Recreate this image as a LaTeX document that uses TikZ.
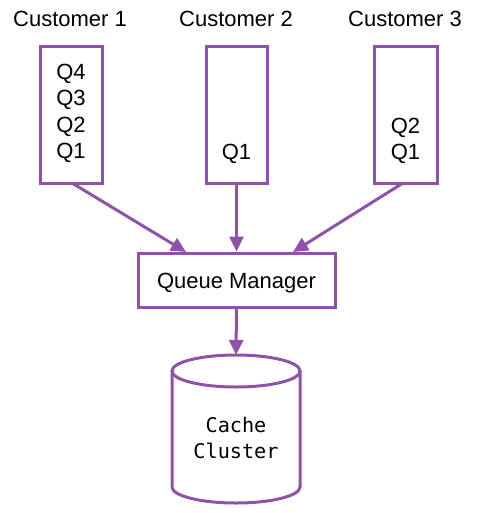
\documentclass[tikz,border=0pt]{standalone}
\usepackage{fontspec}
\setmainfont{Liberation Sans}
\newfontfamily\monof{DejaVu Sans Mono}
\usetikzlibrary{arrows.meta}
\definecolor{pur}{RGB}{142,83,166}
\tikzset{
  lbl/.style={anchor=base, inner sep=0pt, font=\fontsize{22}{26}\selectfont},
  mlbl/.style={anchor=base, inner sep=0pt, font=\monof\fontsize{20.2}{24}\selectfont},
  qbox/.style={draw=pur, line width=3pt},
  conn/.style={draw=pur, line width=3pt, -{Triangle[length=15pt,width=14pt]}, shorten >=0pt}
}
\begin{document}
\begin{tikzpicture}[x=1pt,y=-1pt]
\useasboundingbox (0,0) rectangle (491,513);
% customers
\node[lbl] (c1) at (70,27) {Customer 1};
\node[lbl] (c2) at (236,27) {Customer 2};
\node[lbl] (c3) at (405,27) {Customer 3};
% queue boxes
\node[qbox, minimum width=62pt, minimum height=136pt, inner sep=0pt] (b1) at (71,115) {};
\node[qbox, minimum width=61pt, minimum height=136pt, inner sep=0pt] (b2) at (236.5,115) {};
\node[qbox, minimum width=63pt, minimum height=136pt, inner sep=0pt] (b3) at (405.5,115) {};
\node[lbl] (q14) at (71,80) {Q4};
\node[lbl] (q13) at (71,106) {Q3};
\node[lbl] (q12) at (71,132) {Q2};
\node[lbl] (q11) at (71,158) {Q1};
\node[lbl] (q21) at (236.5,160) {Q1};
\node[lbl] (q32) at (405.5,134) {Q2};
\node[lbl] (q31) at (405.5,160) {Q1};
% queue manager
\node[qbox, minimum width=197pt, minimum height=54pt, inner sep=0pt] (qm) at (236.5,280) {};
\node[lbl] (qmt) at (236.5,288) {Queue Manager};
% cylinder
\draw[pur, line width=3pt] (172,371) -- (172,487) arc[start angle=180, end angle=0, x radius=64, y radius=16] -- (300,371);
\draw[pur, line width=3pt] (236,371) ellipse[x radius=64, y radius=16];
\coordinate (cyltop) at (236,355);
\node[mlbl] (cache) at (236,432) {Cache};
\node[mlbl] (cluster) at (236,458) {Cluster};
% connectors
\coordinate (b1out) at (72,183);
\coordinate (b3out) at (403,183);
\coordinate (qin1) at (186,252);
\coordinate (qin3) at (293,252);
\draw[conn] (b1out) -- (qin1);
\draw[conn] (b2.south) -- (b2.south |- qm.north);
\draw[conn] (b3out) -- (qin3);
\draw[conn] (qm.south) -- (cyltop);
\end{tikzpicture}
\end{document}
